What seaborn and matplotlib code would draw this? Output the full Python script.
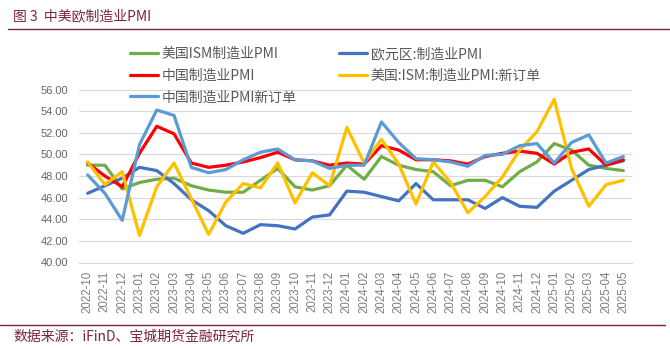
import matplotlib
matplotlib.use("Agg")
import matplotlib.pyplot as plt
import seaborn as sns
import pandas as pd
import numpy as np
from matplotlib.lines import Line2D

months = ["2022-10","2022-11","2022-12","2023-01","2023-02","2023-03","2023-04","2023-05",
          "2023-06","2023-07","2023-08","2023-09","2023-10","2023-11","2023-12","2024-01",
          "2024-02","2024-03","2024-04","2024-05","2024-06","2024-07","2024-08","2024-09",
          "2024-10","2024-11","2024-12","2025-01","2025-02","2025-03","2025-04","2025-05"]

us_ism = [49.0, 49.0, 46.8, 47.4, 47.7, 47.8, 47.1, 46.7, 46.5, 46.5, 47.6, 48.7,
          47.0, 46.7, 47.1, 49.0, 47.7, 49.8, 49.0, 48.6, 48.4, 47.1, 47.6, 47.6,
          47.0, 48.4, 49.3, 51.0, 50.4, 49.0, 48.7, 48.5]
euro_pmi = [46.4, 47.1, 47.8, 48.8, 48.5, 47.3, 45.8, 44.8, 43.4, 42.7, 43.5, 43.4,
            43.1, 44.2, 44.4, 46.6, 46.5, 46.1, 45.7, 47.3, 45.8, 45.8, 45.8, 45.0,
            46.0, 45.2, 45.1, 46.6, 47.6, 48.6, 49.0, 49.4]
cn_pmi = [49.2, 48.0, 47.0, 50.1, 52.6, 51.9, 49.2, 48.8, 49.0, 49.3, 49.7, 50.2,
          49.5, 49.4, 49.0, 49.2, 49.1, 50.8, 50.4, 49.5, 49.5, 49.4, 49.1, 49.8,
          50.1, 50.3, 50.1, 49.1, 50.2, 50.5, 49.0, 49.5]
us_new_orders = [49.3, 47.2, 48.4, 42.5, 47.0, 49.2, 45.9, 42.6, 45.6, 47.3, 46.9, 49.2,
                 45.5, 48.3, 47.1, 52.5, 49.2, 51.4, 49.1, 45.4, 49.3, 47.4, 44.6, 46.1,
                 47.9, 50.4, 52.1, 55.1, 48.7, 45.2, 47.2, 47.6]
cn_new_orders = [48.1, 46.4, 43.9, 50.9, 54.1, 53.6, 48.8, 48.3, 48.6, 49.5, 50.2, 50.5,
                 49.5, 49.4, 48.7, 49.0, 49.0, 53.0, 51.1, 49.6, 49.5, 49.3, 48.9, 49.9,
                 50.0, 50.8, 51.0, 49.2, 51.1, 51.8, 49.2, 49.8]

series_names = ["美国ISM制造业PMI", "欧元区:制造业PMI", "中国制造业PMI",
                "美国:ISM:制造业PMI:新订单", "中国制造业PMI新订单"]
series_vals = [us_ism, euro_pmi, cn_pmi, us_new_orders, cn_new_orders]
colors = ["#70AD47", "#4472C4", "#FF0000", "#FFC000", "#5B9BD5"]

yticks = [40, 42, 44, 46, 48, 50, 52, 54, 56]

sns.set_theme(style="white")
plt.rcParams['font.family'] = ['Noto Sans CJK SC', 'DejaVu Sans']
plt.rcParams['axes.unicode_minus'] = False

fig = plt.figure(figsize=(6.7, 3.49), dpi=100)
ax = fig.add_axes([79/670, 1-262.5/349, (632-79)/670, (262.5-89.5)/349])

x = np.arange(len(months))
rows = []
for name, vals in zip(series_names, series_vals):
    for i, v in enumerate(vals):
        rows.append({"idx": i, "value": v, "series": name})
df = pd.DataFrame(rows)

for k, (name, col) in enumerate(zip(series_names, colors)):
    sub = df[df["series"] == name]
    sns.lineplot(data=sub, x="idx", y="value", ax=ax, color=col, linewidth=2.3,
                 legend=False, zorder=3 + k)

ax.set_xlim(-0.5, len(months) - 0.5)
ax.set_ylim(40, 56)
ax.set_yticks(yticks)
ax.set_yticklabels([f"{t:.2f}" for t in yticks], fontfamily="Liberation Sans")
ax.set_xticks(x)
ax.set_xticklabels(months, rotation=90, fontfamily="Liberation Sans")
ax.set_xticks(np.arange(-0.5, len(months), 1), minor=True)
ax.tick_params(axis='x', which='major', length=0, labelsize=8.3, colors="#7F7F7F", pad=6)
ax.tick_params(axis='x', which='minor', length=4, color="#D9D9D9", width=0.8)
ax.tick_params(axis='y', length=0, labelsize=8, colors="#666666", pad=8)
ax.set_xlabel("")
ax.set_ylabel("")
ax.grid(axis='y', color="#D9D9D9", linewidth=0.8)
ax.set_axisbelow(True)
for s in ["left", "right", "top"]:
    ax.spines[s].set_visible(False)
ax.spines["bottom"].set_color("#D9D9D9")
ax.spines["bottom"].set_linewidth(0.8)

handles = [Line2D([0], [0], color=c, linewidth=2.3) for c in colors]
order = [0, 2, 4, 1, 3]
leg = fig.legend([handles[i] for i in order], [series_names[i] for i in order],
                 ncol=2, loc="upper left", bbox_to_anchor=(130/670, 1-47/349),
                 frameon=False, fontsize=10, handlelength=2.0, handletextpad=0.25,
                 columnspacing=3.1, labelspacing=0.55, borderaxespad=0, borderpad=0)
for t in leg.get_texts():
    t.set_color("#595959")

maroon = "#7B2246"
fig.text(13/670, 1-16/349, "图 3  中美欧制造业PMI", color=maroon, fontsize=10,
         va="center", ha="left")
fig.add_artist(Line2D([8/670, 1.0], [1-29/349, 1-29/349], color=maroon, linewidth=1.0))
fig.add_artist(Line2D([0, 665/670], [1-325/349, 1-325/349], color=maroon, linewidth=1.0))
fig.text(13/670, 1-337/349, "数据来源：iFinD、宝城期货金融研究所", color=maroon, fontsize=10,
         va="center", ha="left")

fig.savefig("out.png", dpi=100)
